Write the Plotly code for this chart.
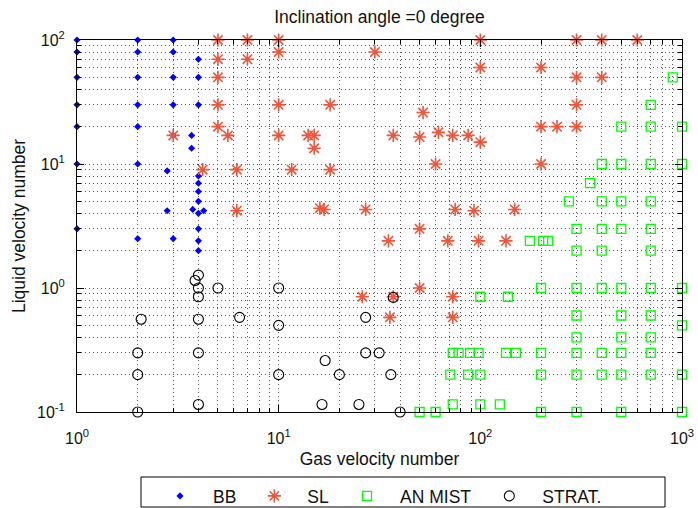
import plotly.graph_objects as go

# Flow-pattern map, horizontal pipe: gas velocity number vs liquid velocity number
bb_gas = [1, 1, 1, 1, 1, 1, 1,
          2, 2, 2, 2, 2, 2, 2,
          3, 3, 3, 3, 3, 3,
          2.8, 2.8,
          4, 4, 4, 3.7, 3.7, 4, 4, 4, 4, 4, 4, 4, 4, 3.75, 4.25]
bb_liq = [100, 80, 50, 30, 20, 10, 3,
          100, 80, 50, 30, 20, 10, 2.5,
          100, 80, 50, 30, 17, 2.5,
          8.8, 4.2,
          70, 50, 30, 17, 13.4, 8, 7, 6, 5, 4, 3, 2.4, 2, 4.3, 4.2]

sl_gas = [5, 5, 5, 5, 5, 5.6, 3, 4.2, 6.2, 6.2,
          7, 7, 10, 10, 10, 10, 30, 18, 14, 15, 15, 37, 50, 52, 62, 73, 60, 11.6, 18,
          16, 16.8, 27, 50, 35, 69, 75, 50, 26, 37, 73, 35.6, 73,
          100, 300, 400, 600, 100, 200, 300, 400, 300, 200, 240, 300, 87, 100, 200,
          93, 148, 98, 134]
sl_liq = [100, 70, 50, 30, 20, 17, 17, 9, 9, 4.2,
          100, 70, 100, 80, 30, 17, 80, 30, 17, 17, 13.4, 17, 16.5, 26, 18, 17, 10, 9, 9,
          4.4, 4.3, 4.3, 3, 2.4, 2.4, 4.3, 1, 0.85, 0.85, 0.85, 0.58, 0.58,
          100, 100, 100, 100, 60, 60, 50, 50, 30, 20, 20, 20, 17, 15, 10,
          4.2, 4.3, 2.4, 2.4]

an_gas = [900, 700, 500, 700, 1000, 400, 500, 700, 1000, 350,
          275, 400, 500, 700, 300, 400, 500, 700, 176, 205, 217, 300, 400, 700,
          200, 300, 400, 500, 700, 1000, 100, 137,
          300, 500, 700, 1000, 300, 500, 700,
          73, 78, 89, 98, 134, 150, 200, 300, 400, 500, 700,
          71, 87, 100, 200, 300, 400, 500, 700, 1000,
          73, 100, 125,
          50, 60, 200, 300, 500, 1000]
an_liq = [50, 30, 20, 20, 20, 10, 10, 10, 10, 7,
          5, 5, 5, 5, 3, 3, 3, 3, 2.4, 2.4, 2.4, 2, 2, 2,
          1, 1, 1, 1, 1, 1, 0.85, 0.85,
          0.6, 0.6, 0.6, 0.5, 0.4, 0.4, 0.4,
          0.3, 0.3, 0.3, 0.3, 0.3, 0.3, 0.3, 0.3, 0.3, 0.3, 0.3,
          0.2, 0.2, 0.2, 0.2, 0.2, 0.2, 0.2, 0.2, 0.2,
          0.115, 0.115, 0.115,
          0.1, 0.1, 0.1, 0.1, 0.1, 0.1]

st_gas = [4, 3.85, 4, 4, 5, 2.08, 4, 2, 4, 2, 4, 2,
          10, 6.4, 10, 10, 27, 27, 31.5, 17, 20, 36, 16.4, 25, 40, 37]
st_liq = [1.27, 1.15, 1.0, 0.85, 1.0, 0.56, 0.56, 0.3, 0.3, 0.2, 0.115, 0.1,
          1, 0.58, 0.5, 0.2, 0.58, 0.3, 0.3, 0.26, 0.2, 0.2, 0.115, 0.115, 0.1, 0.84]

x_decades = [1, 10, 100, 1000]
y_decades = [0.1, 1, 10, 100]
x_tick_text = ["10<sup>0</sup>", "10<sup>1</sup>", "10<sup>2</sup>", "10<sup>3</sup>"]
y_tick_text = ["10<sup>-1</sup>", "10<sup>0</sup>", "10<sup>1</sup>", "10<sup>2</sup>"]

FONT = "Liberation Sans, Arial, sans-serif"
W, H = 698, 508
L, R, T, B = 77, 16, 40, 96
PW, PH = W - L - R, H - T - B


def minor_vals(decades):
    return [m * d for d in decades[:-1] for m in range(2, 10)]


def px_to_paper_x(px):
    return (px - L) / PW


def px_to_paper_y(py):
    return (H - B - py) / PH


fig = go.Figure()
fig.add_trace(go.Scatter(x=bb_gas, y=bb_liq, mode="markers", name="BB", cliponaxis=False,
                         marker=dict(symbol="diamond", size=5.5, color="#0000ff")))
fig.add_trace(go.Scatter(x=sl_gas, y=sl_liq, mode="markers", name="SL", cliponaxis=False,
                         marker=dict(symbol="asterisk-open", size=11,
                                     line=dict(color="#ff0000", width=1.6))))
fig.add_trace(go.Scatter(x=an_gas, y=an_liq, mode="markers", name="AN MIST", cliponaxis=False,
                         marker=dict(symbol="square-open", size=9, color="#00ff00",
                                     line=dict(color="#00ff00", width=1.3))))
fig.add_trace(go.Scatter(x=st_gas, y=st_liq, mode="markers", name="STRAT.", cliponaxis=False,
                         marker=dict(symbol="circle-open", size=10, color="#000000",
                                     line=dict(color="#000000", width=1.1))))

grid = dict(showgrid=True, gridcolor="#555555", gridwidth=1, griddash="1px,3px")
axis_common = dict(
    type="log", showline=True, linecolor="#000000", linewidth=1, mirror="allticks",
    ticks="inside", ticklen=7, tickcolor="#000000", zeroline=False,
    tickfont=dict(family=FONT, size=16, color="#111111"),
    **grid,
)

fig.update_xaxes(
    range=[0, 3], tickmode="array", tickvals=x_decades, ticktext=x_tick_text,
    ticklabelstandoff=12,
    minor=dict(tickmode="array", tickvals=minor_vals(x_decades), ticks="inside",
               ticklen=4, tickcolor="#000000", **grid),
    title=dict(text="Gas velocity number", standoff=6,
               font=dict(family=FONT, size=17.5, color="#111111")),
    **axis_common,
)
fig.update_yaxes(
    range=[-1, 2], tickmode="array", tickvals=y_decades, ticktext=y_tick_text,
    ticklabelstandoff=8,
    minor=dict(tickmode="array", tickvals=minor_vals(y_decades), ticks="inside",
               ticklen=4, tickcolor="#000000", **grid),
    title=dict(text="Liquid velocity number", standoff=6,
               font=dict(family=FONT, size=17.5, color="#111111")),
    **axis_common,
)

fig.update_layout(
    width=W, height=H,
    margin=dict(l=L, r=R, t=T, b=B, autoexpand=False),
    paper_bgcolor="#ffffff", plot_bgcolor="#ffffff",
    title=dict(text="Inclination angle =0 degree", x=0.5, xref="paper",
               y=1 - 17 / H, yref="container", yanchor="middle", xanchor="center",
               font=dict(family=FONT, size=17.5, color="#111111")),
    legend=dict(orientation="h", x=px_to_paper_x(147), xanchor="left",
                y=px_to_paper_y(478), yanchor="top", itemwidth=56,
                bgcolor="rgba(0,0,0,0)", borderwidth=0,
                font=dict(family=FONT, size=17.5, color="#111111")),
    shapes=[dict(type="rect", xref="paper", yref="paper",
                 x0=px_to_paper_x(141), x1=px_to_paper_x(665),
                 y0=px_to_paper_y(507), y1=px_to_paper_y(477),
                 line=dict(color="#000000", width=1), fillcolor="rgba(0,0,0,0)")],
    showlegend=True,
)

fig.write_html("out.html")
